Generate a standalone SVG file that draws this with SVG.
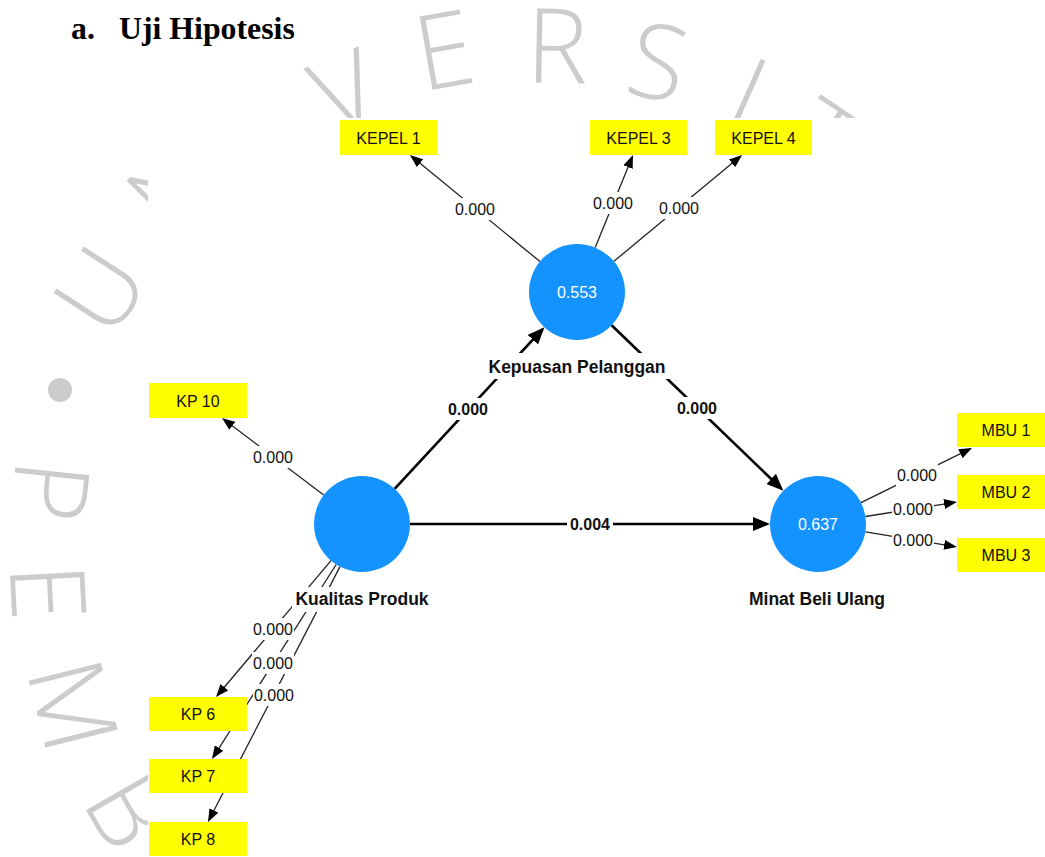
<svg xmlns="http://www.w3.org/2000/svg" width="1045" height="857" viewBox="0 0 1045 857">
<defs>
<marker id="ah" markerUnits="userSpaceOnUse" markerWidth="13" markerHeight="10" refX="11" refY="5" orient="auto"><path d="M0,0 L13,5 L0,10 z" fill="#000"/></marker>
<marker id="ahb" markerUnits="userSpaceOnUse" markerWidth="17" markerHeight="14" refX="14" refY="7" orient="auto"><path d="M0,0 L17,7 L0,14 z" fill="#000"/></marker>
<style>
.wm{font-family:"Open Sans","Noto Sans",sans-serif;font-size:104px;font-weight:300;fill:#cccccc;text-anchor:middle}
.title{font-family:"Liberation Serif","Times New Roman",serif;font-weight:bold;font-size:31.8px;fill:#000}
.t{font-family:"Liberation Sans",Arial,sans-serif;font-size:16px;text-anchor:middle;fill:#111}
.ind rect{fill:#ffff00}
.lv circle{fill:#1493ff}
.val{fill:#fff}
.name{font-weight:bold;font-size:17.5px}
.b{font-weight:bold}
.bg{fill:#fff}
.outer{stroke:#222;stroke-width:1.3;fill:none;marker-end:url(#ah)}
.inner{stroke:#000;stroke-width:2.6;fill:none;marker-end:url(#ahb)}
</style>
</defs>
<rect width="1045" height="857" fill="#fff"/>
<g id="watermark">
<text class="wm" transform="translate(100,290) rotate(-57)" y="37">U</text>
<text class="wm" transform="translate(172,188) rotate(-45)" y="37">N</text>
<text class="wm" transform="translate(345,92) rotate(-22)" y="37">V</text>
<text class="wm" transform="translate(444,50) rotate(-10)" y="37">E</text>
<text class="wm" transform="translate(557,46) rotate(1)" y="37">R</text>
<text class="wm" transform="translate(658,62) rotate(12)" y="37">S</text>
<text class="wm" transform="translate(748,94) rotate(24)" y="37">I</text>
<text class="wm" transform="translate(822,140) rotate(34)" y="37">T</text>
<circle cx="60" cy="390" r="12" fill="#cccccc"/>
<text class="wm" transform="translate(50,491) rotate(96)" y="37">P</text>
<text class="wm" transform="translate(48,592) rotate(87)" y="37">E</text>
<text class="wm" transform="translate(73,705) rotate(76)" y="37">M</text>
<text class="wm" transform="translate(129,811) rotate(60)" y="37">B</text>
</g>
<rect x="148" y="118" width="897" height="739" fill="#fff"/>
<g id="title">
<text class="title" x="71" y="39">a.</text>
<text class="title" x="119" y="39">Uji Hipotesis</text>
</g>
<g id="connectors">
<line class="outer" x1="540" y1="261.6" x2="411.5" y2="156.3"/>
<line class="outer" x1="595.2" y1="247.6" x2="632.2" y2="156.9"/>
<line class="outer" x1="613.9" y1="261.3" x2="740.5" y2="156.3"/>
<line class="outer" x1="323.7" y1="495" x2="223.6" y2="419.2"/>
<line class="outer" x1="331" y1="560.7" x2="217.3" y2="695.5"/>
<line class="outer" x1="336.2" y1="564.5" x2="213.1" y2="757.3"/>
<line class="outer" x1="340" y1="566.6" x2="208.9" y2="820.2"/>
<line class="outer" x1="861" y1="502.7" x2="970.2" y2="448.9"/>
<line class="outer" x1="865.4" y1="516.5" x2="955" y2="502.3"/>
<line class="outer" x1="865.4" y1="531.8" x2="955" y2="546.7"/>
<line class="inner" x1="394.6" y1="488.8" x2="542.4" y2="329.4"/>
<line class="inner" x1="611.6" y1="325.3" x2="781.2" y2="488.6"/>
<line class="inner" x1="410" y1="524" x2="767" y2="524"/>
<g id="edge-labels">
<rect class="bg" x="454" y="198" width="42" height="22"/><text class="t" x="475" y="215">0.000</text>
<rect class="bg" x="592" y="192" width="42" height="22"/><text class="t" x="613" y="209">0.000</text>
<rect class="bg" x="658" y="197" width="42" height="22"/><text class="t" x="679" y="214">0.000</text>
<rect class="bg" x="252" y="446" width="42" height="22"/><text class="t" x="273" y="463">0.000</text>
<rect class="bg" x="252" y="618" width="42" height="22"/><text class="t" x="273" y="635">0.000</text>
<rect class="bg" x="252" y="652" width="42" height="22"/><text class="t" x="273" y="669">0.000</text>
<rect class="bg" x="253" y="684" width="42" height="22"/><text class="t" x="274" y="701">0.000</text>
<rect class="bg" x="896" y="464" width="42" height="22"/><text class="t" x="917" y="481">0.000</text>
<rect class="bg" x="892" y="498" width="42" height="22"/><text class="t" x="913" y="515">0.000</text>
<rect class="bg" x="892" y="529" width="42" height="22"/><text class="t" x="913" y="546">0.000</text>
<rect class="bg" x="445" y="398" width="46" height="22"/><text class="t b" x="468" y="415">0.000</text>
<rect class="bg" x="674" y="397" width="46" height="22"/><text class="t b" x="697" y="414">0.000</text>
<rect class="bg" x="567" y="513" width="46" height="22"/><text class="t b" x="590" y="530">0.004</text>
</g>
</g>
<g id="kepuasan-pelanggan" class="lv">
<circle cx="577" cy="292" r="48"/>
<text class="t val" x="577" y="298">0.553</text>
<rect class="bg" x="485" y="353" width="184" height="26"/>
<text class="t name" x="577" y="373">Kepuasan Pelanggan</text>
</g>
<g id="kualitas-produk" class="lv">
<circle cx="362" cy="524" r="48"/>
<rect class="bg" x="292" y="587" width="141" height="25"/>
<text class="t name" x="362" y="605">Kualitas Produk</text>
</g>
<g id="minat-beli-ulang" class="lv">
<circle cx="818" cy="524" r="48"/>
<text class="t val" x="818" y="530">0.637</text>
<text class="t name" x="817" y="605">Minat Beli Ulang</text>
</g>
<g id="kepel-1" class="ind"><rect x="340" y="120" width="97" height="35"/><text class="t" x="388.5" y="144">KEPEL 1</text></g>
<g id="kepel-3" class="ind"><rect x="590" y="120" width="97" height="35"/><text class="t" x="638.5" y="144">KEPEL 3</text></g>
<g id="kepel-4" class="ind"><rect x="715" y="120" width="97" height="35"/><text class="t" x="763.5" y="144">KEPEL 4</text></g>
<g id="kp-10" class="ind"><rect x="149" y="383" width="98" height="35"/><text class="t" x="198" y="407">KP 10</text></g>
<g id="kp-6" class="ind"><rect x="149" y="697" width="98" height="34"/><text class="t" x="198" y="720">KP 6</text></g>
<g id="kp-7" class="ind"><rect x="149" y="759" width="98" height="34"/><text class="t" x="198" y="782">KP 7</text></g>
<g id="kp-8" class="ind"><rect x="149" y="822" width="98" height="34"/><text class="t" x="198" y="845">KP 8</text></g>
<g id="mbu-1" class="ind"><rect x="957" y="413" width="98" height="34"/><text class="t" x="1006" y="436">MBU 1</text></g>
<g id="mbu-2" class="ind"><rect x="957" y="475" width="98" height="34"/><text class="t" x="1006" y="498">MBU 2</text></g>
<g id="mbu-3" class="ind"><rect x="957" y="538" width="98" height="34"/><text class="t" x="1006" y="561">MBU 3</text></g>
</svg>
